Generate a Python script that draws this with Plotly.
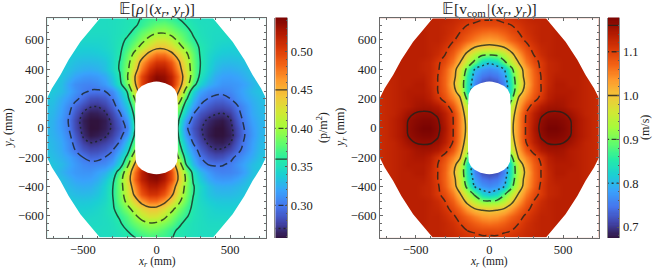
import numpy as np
import plotly.graph_objects as go

W, H = 654, 268
half_x = list(range(-750, 751, 50))      # columns of the rho rows
half_y = list(range(750, -1, -50))       # rows, top to bottom
grid_x = list(range(0, 751, 50))         # columns of the vcom rows (one side)

# y >= 0 half of E[rho]; the lower half is the point reflection of this one
rho_rows = [
 [.348,.348,.348,.348,.348,.348,.348,.348,.348,.349,.350,.353,.356,.361,.366,.366,.369,.364,.359,.355,.351,.349,.348,.348,.348,.348,.348,.348,.348,.348,.348],
 [.348,.348,.348,.348,.348,.348,.348,.348,.348,.349,.351,.353,.357,.365,.374,.382,.384,.378,.369,.360,.354,.350,.349,.348,.348,.348,.348,.348,.348,.348,.348],
 [.348,.348,.348,.348,.348,.347,.347,.347,.347,.349,.351,.355,.365,.379,.389,.397,.398,.391,.381,.370,.357,.351,.348,.347,.347,.347,.347,.347,.348,.348,.348],
 [.348,.348,.347,.346,.345,.344,.344,.344,.345,.349,.353,.363,.376,.391,.408,.422,.423,.412,.394,.376,.363,.353,.349,.346,.345,.344,.344,.344,.346,.348,.348],
 [.347,.346,.344,.342,.341,.340,.340,.341,.344,.348,.355,.370,.389,.409,.429,.442,.442,.431,.411,.391,.372,.356,.349,.344,.341,.340,.340,.341,.344,.346,.347],
 [.345,.344,.342,.339,.337,.336,.336,.337,.340,.346,.357,.380,.407,.435,.460,.477,.477,.460,.435,.407,.380,.357,.346,.340,.337,.336,.337,.339,.342,.344,.345],
 [.344,.343,.340,.336,.332,.330,.330,.331,.335,.345,.361,.387,.422,.460,.489,.506,.506,.489,.455,.417,.383,.359,.344,.335,.331,.330,.331,.334,.338,.341,.343],
 [.343,.342,.338,.333,.328,.325,.324,.326,.333,.345,.362,.391,.432,.474,.508,.523,.522,.502,.466,.423,.384,.358,.342,.331,.325,.324,.326,.330,.335,.339,.342],
 [.341,.339,.335,.328,.320,.315,.314,.316,.323,.337,.357,.396,.446,.495,.523,.537,.533,.517,.480,.428,.384,.353,.336,.324,.319,.318,.320,.326,.332,.336,.339],
 [.340,.337,.332,.320,.310,.306,.305,.308,.316,.330,.352,.388,.442,.495,.527,.542,.538,.517,.475,.418,.372,.342,.326,.319,.313,.313,.315,.320,.327,.334,.339],
 [.338,.336,.331,.322,.312,.303,.299,.298,.300,.309,.330,.361,.423,.478,.520,.538,.532,.500,.452,.387,.343,.320,.310,.307,.306,.308,.315,.323,.330,.334,.338],
 [.335,.333,.324,.316,.305,.294,.284,.283,.288,.300,.321,.349,.398,.458,.510,.528,.522,.480,.422,.366,.331,.309,.300,.294,.293,.300,.311,.320,.326,.331,.335],
 [.333,.330,.320,.308,.293,.280,.272,.271,.277,.290,.312,.336,.379,.432,.483,.499,.491,.447,.393,.346,.318,.298,.288,.282,.281,.287,.299,.312,.323,.329,.333],
 [.332,.328,.318,.304,.286,.269,.262,.263,.268,.280,.298,.327,.366,.406,.438,.458,.442,.413,.374,.334,.302,.285,.277,.272,.270,.276,.293,.310,.322,.328,.332],
 [.330,.326,.315,.300,.280,.263,.258,.258,.262,.274,.289,.314,.359,.389,.419,.430,.420,.391,.361,.316,.291,.277,.267,.262,.260,.268,.287,.306,.319,.326,.330],
 [.330,.325,.316,.302,.281,.265,.2575,.258,.263,.272,.285,.305,.357,.385,.410,.420,.410,.385,.357,.305,.285,.272,.263,.258,.2575,.265,.281,.302,.316,.325,.330],
]
vcom_rows = [
 [1.105,1.105,1.110,1.115,1.120,1.125,1.130,1.130,1.130,1.130,1.130,1.130,1.130,1.130,1.130,1.130],
 [1.090,1.090,1.095,1.100,1.110,1.120,1.125,1.130,1.130,1.130,1.130,1.130,1.130,1.130,1.130,1.130],
 [1.060,1.065,1.075,1.090,1.100,1.115,1.125,1.130,1.130,1.135,1.135,1.135,1.135,1.135,1.135,1.135],
 [1.030,1.035,1.050,1.070,1.090,1.105,1.120,1.130,1.130,1.135,1.135,1.135,1.135,1.135,1.135,1.135],
 [0.985,0.990,1.000,1.030,1.065,1.090,1.110,1.125,1.130,1.135,1.135,1.135,1.135,1.135,1.135,1.135],
 [0.905,0.910,0.940,0.985,1.035,1.075,1.100,1.120,1.130,1.135,1.135,1.135,1.135,1.135,1.135,1.135],
 [0.810,0.830,0.890,0.945,1.005,1.055,1.090,1.105,1.125,1.130,1.135,1.135,1.135,1.135,1.135,1.135],
 [0.765,0.775,0.800,0.885,0.970,1.030,1.075,1.105,1.125,1.130,1.135,1.135,1.135,1.135,1.130,1.130],
 [0.740,0.750,0.780,0.860,0.960,1.025,1.070,1.100,1.125,1.135,1.135,1.135,1.135,1.130,1.130,1.130],
 [0.710,0.720,0.760,0.850,0.950,1.015,1.070,1.100,1.125,1.140,1.140,1.135,1.135,1.130,1.125,1.125],
 [0.700,0.710,0.760,0.850,0.965,1.030,1.075,1.100,1.130,1.140,1.140,1.140,1.135,1.130,1.125,1.125],
 [0.700,0.710,0.780,0.885,1.010,1.050,1.085,1.110,1.135,1.145,1.145,1.140,1.135,1.130,1.125,1.120],
 [0.720,0.740,0.820,0.945,1.030,1.080,1.115,1.140,1.150,1.152,1.149,1.140,1.135,1.130,1.125,1.120],
 [0.800,0.820,0.880,0.965,1.045,1.100,1.135,1.155,1.162,1.163,1.161,1.152,1.140,1.130,1.125,1.120],
 [0.860,0.870,0.910,0.980,1.050,1.105,1.140,1.163,1.172,1.172,1.168,1.161,1.145,1.135,1.125,1.120],
 [0.880,0.890,0.920,0.985,1.050,1.105,1.145,1.166,1.178,1.178,1.172,1.162,1.145,1.135,1.125,1.120],
]
hole_x = [0,20,60,100,125,140,145,145,140,125,100,60,20,0]
hole_y = [316,315,305,285,262,230,150,-150,-230,-262,-285,-305,-315,-316]
corner_x = [365,450,517,597,653,710,745,770,770]
corner_y = [770,668,588,464,361,270,200,200,770]

DASH, DOT = '8px,4px', '2px,3px'
rho_levels = [(.45,'solid'),(.40,DASH),(.36,'solid'),(.30,DASH),(.27,DOT)]
vcom_levels = [(1.16,'solid'),(1.10,DASH),(1.00,'solid'),(.90,DASH),(.80,DOT)]
rho_range = [.2576,.544]
vcom_range = [.675,1.178]
LINE = 'rgba(25,35,30,0.78)'
FONT = 'Liberation Serif'
AX = '#6a6a6a'

def full_point(rows):
    top = np.array(rows)[::-1]            # y ascending from 0
    return np.vstack([top[:0:-1, ::-1], top])

def full_mirror(rows):
    q = np.array(rows)[::-1]
    top = np.hstack([q[:, :0:-1], q])
    return np.vstack([top[:0:-1], top])

xs = [-v for v in grid_x[:0:-1]] + grid_x
ys = xs

def dom(a, b, t): return [a / t, b / t]
panels = [
 dict(z=full_point(rho_rows), levels=rho_levels, rng=rho_range, px=(47.3,265.7), cb=(275.4,287.3), tx=322, ytx=8.5,
      ax='x', ay='y', cx='x3', cy='y3', cdt=.05, cdm=.01, ctf='.2f',
      title='𝔼[<i>ρ</i>\u200a|\u200a(<i>x<sub>r</sub></i>, <i>y<sub>r</sub></i>)]', ctitle='(p/m<sup>2</sup>)'),
 dict(z=full_mirror(vcom_rows), levels=vcom_levels, rng=vcom_range, px=(380,598.7), cb=(608,619.4), tx=645, ytx=341,
      ax='x2', ay='y2', cx='x4', cy='y4', cdt=.1, cdm=.02, ctf='.1f',
      title='𝔼[v<sub>com</sub>\u200a|\u200a(<i>x<sub>r</sub></i>, <i>y<sub>r</sub></i>)]', ctitle='(m/s)'),
]

fig = go.Figure()
ydom = [1 - 237.5 / H, 1 - 18.3 / H]
tickf = dict(family=FONT, size=12.5, color='#222')
annos = []
lab = dict(xref='paper', yref='paper', showarrow=False)
for i, p in enumerate(panels):
    fig.add_trace(go.Heatmap(x=xs, y=ys, z=p['z'], colorscale='Turbo', zmin=p['rng'][0], zmax=p['rng'][1],
                             zsmooth='best', showscale=False, xaxis=p['ax'], yaxis=p['ay'], hoverinfo='skip'))
    for lv, dash in p['levels']:
        fig.add_trace(go.Contour(x=xs, y=ys, z=p['z'], autocontour=False,
                                 contours=dict(start=lv, end=lv, size=1, coloring='none'),
                                 line=dict(color=LINE, width=1.5, dash=dash), showscale=False,
                                 xaxis=p['ax'], yaxis=p['ay'], hoverinfo='skip'))
    mx, my = list(hole_x) + [-v for v in hole_x[::-1]], list(hole_y) + list(hole_y[::-1])
    for sx, sy in [(1,1),(-1,1),(-1,-1),(1,-1)]:
        mx += [None] + [sx*v for v in corner_x]
        my += [None] + [sy*v for v in corner_y]
    fig.add_trace(go.Scatter(x=mx, y=my, mode='none', fill='toself', fillcolor='white',
                             xaxis=p['ax'], yaxis=p['ay'], hoverinfo='skip', showlegend=False))
    cvals = np.linspace(p['rng'][0], p['rng'][1], 200)
    fig.add_trace(go.Heatmap(x=[0,1], y=cvals, z=np.column_stack([cvals,cvals]), colorscale='Turbo',
                             zmin=p['rng'][0], zmax=p['rng'][1], showscale=False,
                             xaxis=p['cx'], yaxis=p['cy'], hoverinfo='skip'))
    for lv, dash in p['levels']:
        fig.add_trace(go.Scatter(x=[-1,2], y=[lv,lv], mode='lines', showlegend=False, hoverinfo='skip',
                                 line=dict(color='rgba(35,35,30,0.85)', width=1.4, dash=dash.replace(DASH,'5px,2.5px')),
                                 xaxis=p['cx'], yaxis=p['cy']))
    n = '' if i == 0 else '2'
    c = '3' if i == 0 else '4'
    fig.layout['xaxis'+n] = dict(domain=dom(*p['px'], W), range=[-742,742], anchor='y'+n, tickvals=[-500,0,500],
        ticks='inside', ticklen=3, tickwidth=1, tickcolor=AX, showgrid=False, zeroline=False, mirror='ticks',
        showline=True, linecolor=AX, linewidth=1, tickfont=tickf,
        minor=dict(dtick=100, ticks='inside', ticklen=1.5, tickwidth=1, tickcolor=AX, showgrid=False))
    fig.layout['yaxis'+n] = dict(domain=ydom, range=[-747,747], anchor='x'+n, tickvals=[-600,-400,-200,0,200,400,600],
        ticks='inside', ticklen=3, tickwidth=1, tickcolor=AX, showgrid=False, zeroline=False, mirror='ticks',
        showline=True, linecolor=AX, linewidth=1, tickfont=tickf,
        minor=dict(dtick=50, ticks='inside', ticklen=1.5, tickwidth=1, tickcolor=AX, showgrid=False))
    fig.layout['xaxis'+c] = dict(domain=dom(*p['cb'], W), range=[0,1], anchor='y'+c, visible=False)
    fig.layout['yaxis'+c] = dict(domain=[1-238/H, 1-17.5/H], range=p['rng'], anchor='x'+c, side='right',
        dtick=p['cdt'], tick0=0, tickformat=p['ctf'], ticks='inside', ticklen=2, tickwidth=1, tickcolor='#555',
        showgrid=False, zeroline=False, showline=True, linecolor='#8a8a8a', linewidth=1, mirror=True, tickfont=tickf,
        minor=dict(dtick=p['cdm'], ticks='inside', ticklen=1, tickwidth=1, tickcolor='#555', showgrid=False))
    cx = sum(p['px'])/2/W
    annos.append(dict(text=p['title'], x=cx, y=1-21/H, xanchor='center', yanchor='bottom',
                      font=dict(family=FONT, size=15.5, color='#222'), **lab))
    annos.append(dict(text=p['ctitle'], x=p['tx']/W, y=1-128/H, xanchor='center', yanchor='middle', textangle=-90,
                      font=dict(family=FONT, size=12, color='#222'), **lab))
    annos.append(dict(text='<i>x<sub>r</sub></i> (mm)', x=cx, y=1-253/H, xanchor='center', yanchor='top',
                      font=dict(family=FONT, size=11.5, color='#222'), **lab))
    annos.append(dict(text='<i>y<sub>r</sub></i> (mm)', x=p['ytx']/W, y=1-128/H, xanchor='center', yanchor='middle',
                      textangle=-90, font=dict(family=FONT, size=12, color='#222'), **lab))

fig.update_layout(width=W, height=H, margin=dict(l=0,r=0,t=0,b=0), paper_bgcolor='white', plot_bgcolor='white',
                  showlegend=False, annotations=annos, font=dict(family=FONT, color='#222'))
fig.write_html('out.html', config=dict(displayModeBar=False),
               post_script="document.body.style.margin='0';document.body.style.overflow='hidden';")
